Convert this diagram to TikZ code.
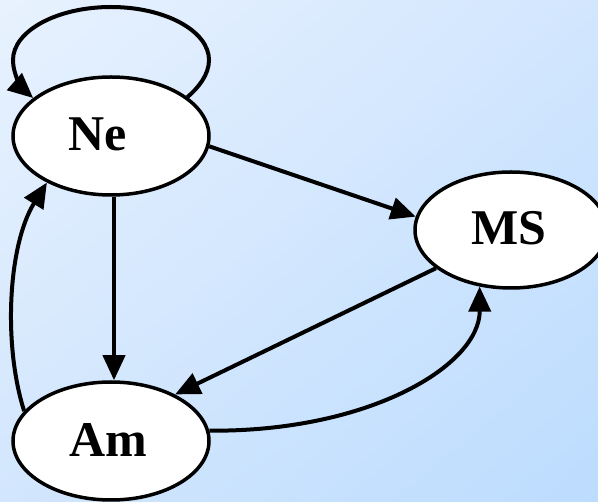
\documentclass[tikz,border=0pt]{standalone}
\usepackage{fontspec}
\setmainfont{Liberation Serif}
\usetikzlibrary{arrows.meta,shapes.geometric,shadings}

\definecolor{bgUL}{HTML}{E8F2FE}
\definecolor{bgUR}{HTML}{D2E6FE}
\definecolor{bgLL}{HTML}{D2E6FD}
\definecolor{bgLR}{HTML}{BCDCFE}

\tikzset{
  state/.style={ellipse, draw=black, fill=white, line width=3.5pt,
    inner sep=0pt, minimum width=196pt, minimum height=118pt},
  lbl/.style={anchor=base, inner sep=0pt,
    font=\fontsize{50}{60}\selectfont\bfseries},
  edge/.style={draw=black, line width=4pt,
    -{Triangle[length=25pt,width=22pt]}},
}

\begin{document}
\begin{tikzpicture}[x=1pt,y=-1pt]
  % canvas with a soft diagonal blue gradient
  \path[use as bounding box, clip] (0,0) rectangle (598,502);
  \shade[upper left=bgUL, upper right=bgUR, lower left=bgLL, lower right=bgLR]
    (0,0) rectangle (598,502);

  % states
  \node[state] (ne) at (111,136) {};
  \node[state] (am) at (111,441) {};
  \node[state, minimum width=192pt, minimum height=116pt] (ms) at (511,230) {};

  \node[lbl] (neT) at (98,151) {Ne};
  \node[lbl] (amT) at (108,457) {Am};
  \node[lbl] (msT) at (509,245) {MS};

  % self loop on Ne
  \draw[edge] (ne.27) .. controls (198,88) and (209,75) .. (209,60)
    .. controls (209,31) and (165,7) .. (111,7)
    .. controls (57,7) and (13,31) .. (13,60)
    .. controls (13,76) and (24,90) .. (ne.154);

  % transitions
  \draw[edge] (ne.-6) -- (ms.172.6);
  \draw[edge] ([xshift=3pt]ne.south) -- ([xshift=3pt]am.north);
  \draw[edge] (ms.207) -- (am.36);
  \draw[edge] (am.6.5) .. controls (370,432) and (480,365) .. (ms.241);
  \draw[edge] (am.161) .. controls (3,345) and (8,245) .. (ne.216);
\end{tikzpicture}
\end{document}
